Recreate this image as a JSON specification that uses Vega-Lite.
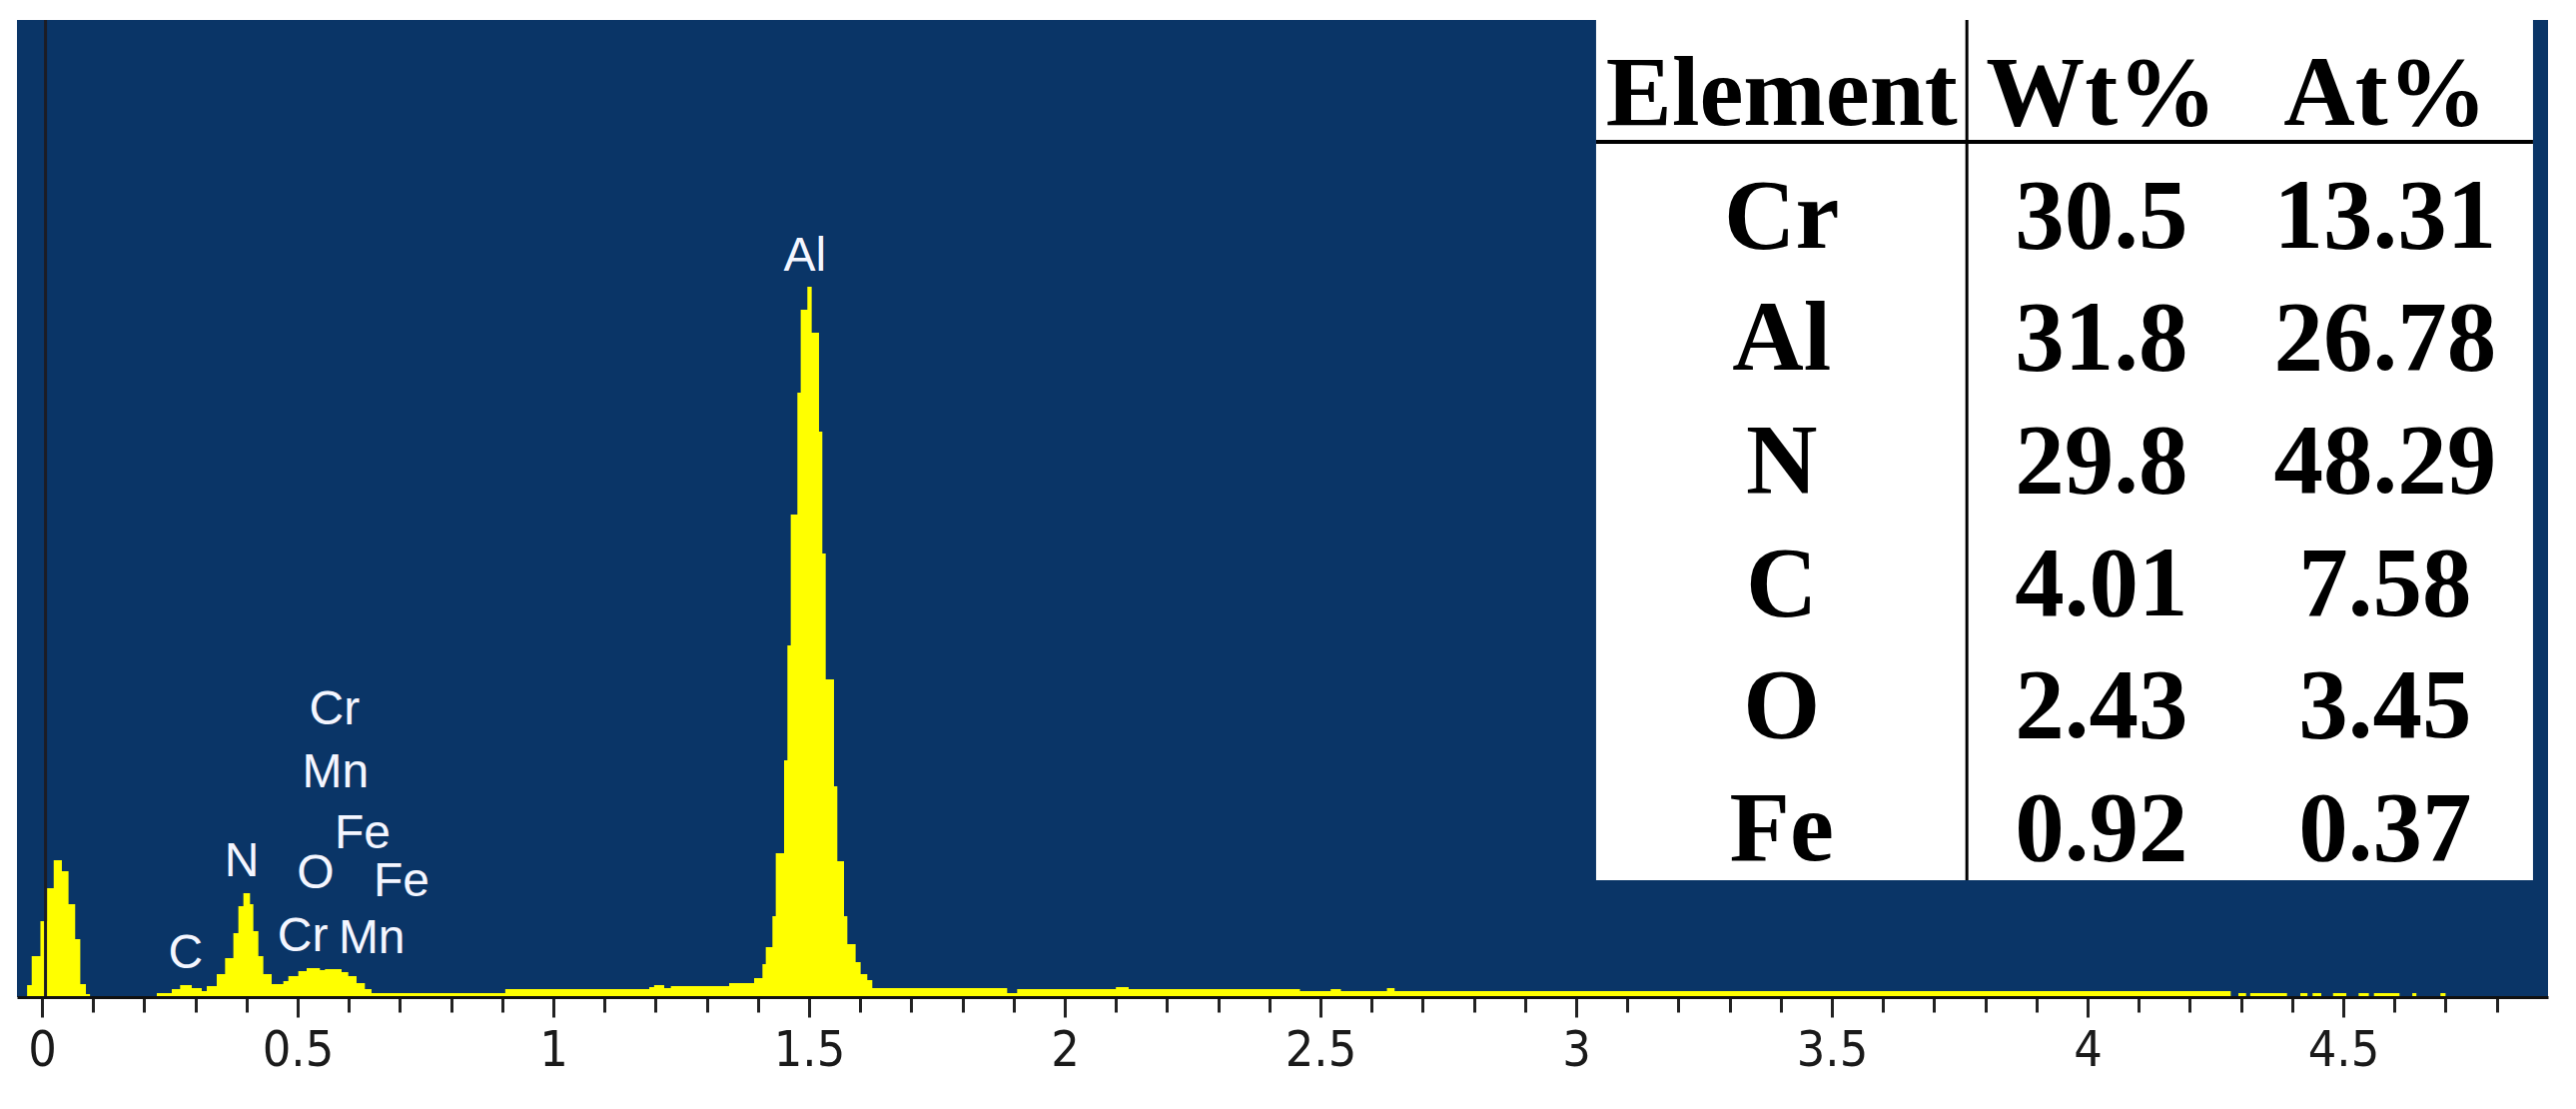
{
  "$schema": "https://vega.github.io/schema/vega-lite/v6.json",
  "width": 2534,
  "height": 978,
  "autosize": "none",
  "padding": {"left": 17, "top": 20, "right": 28, "bottom": 112},
  "background": "white",
  "config": {"view": {"fill": "#0a3567", "stroke": null}},
  "datasets": {
    "spectrum": [
      {"keV": -0.035, "counts": 0}, {"keV": -0.029, "counts": 12}, {"keV": -0.02, "counts": 41},
      {"keV": -0.003, "counts": 76}, {"keV": 0.01, "counts": 109}, {"keV": 0.023, "counts": 137},
      {"keV": 0.039, "counts": 126}, {"keV": 0.052, "counts": 93}, {"keV": 0.065, "counts": 58},
      {"keV": 0.075, "counts": 13}, {"keV": 0.086, "counts": 3}, {"keV": 0.094, "counts": 0},
      {"keV": 0.2246, "counts": 4}, {"keV": 0.2539, "counts": 8}, {"keV": 0.2702, "counts": 12},
      {"keV": 0.293, "counts": 9}, {"keV": 0.3125, "counts": 6}, {"keV": 0.3223, "counts": 11},
      {"keV": 0.3418, "counts": 23}, {"keV": 0.3581, "counts": 39}, {"keV": 0.3743, "counts": 64},
      {"keV": 0.3841, "counts": 91}, {"keV": 0.3939, "counts": 104}, {"keV": 0.4069, "counts": 93},
      {"keV": 0.4134, "counts": 66}, {"keV": 0.4232, "counts": 41}, {"keV": 0.4329, "counts": 23},
      {"keV": 0.4492, "counts": 13}, {"keV": 0.472, "counts": 16}, {"keV": 0.4818, "counts": 21},
      {"keV": 0.5013, "counts": 26}, {"keV": 0.5176, "counts": 29}, {"keV": 0.5436, "counts": 27},
      {"keV": 0.5534, "counts": 28}, {"keV": 0.5859, "counts": 25}, {"keV": 0.599, "counts": 21},
      {"keV": 0.6152, "counts": 14}, {"keV": 0.6315, "counts": 8}, {"keV": 0.6445, "counts": 4},
      {"keV": 0.906, "counts": 8}, {"keV": 1.1875, "counts": 10}, {"keV": 1.197, "counts": 12},
      {"keV": 1.2168, "counts": 9}, {"keV": 1.2298, "counts": 11}, {"keV": 1.3438, "counts": 14},
      {"keV": 1.3926, "counts": 19}, {"keV": 1.4089, "counts": 33}, {"keV": 1.4154, "counts": 50},
      {"keV": 1.4284, "counts": 81}, {"keV": 1.4349, "counts": 144}, {"keV": 1.4512, "counts": 237},
      {"keV": 1.4577, "counts": 352}, {"keV": 1.4642, "counts": 483}, {"keV": 1.4772, "counts": 605},
      {"keV": 1.4837, "counts": 688}, {"keV": 1.4967, "counts": 711}, {"keV": 1.5052, "counts": 665},
      {"keV": 1.5195, "counts": 566}, {"keV": 1.526, "counts": 444}, {"keV": 1.5326, "counts": 318},
      {"keV": 1.5488, "counts": 211}, {"keV": 1.5553, "counts": 136}, {"keV": 1.5684, "counts": 81},
      {"keV": 1.5749, "counts": 53}, {"keV": 1.5911, "counts": 35}, {"keV": 1.6009, "counts": 23},
      {"keV": 1.6139, "counts": 17}, {"keV": 1.6237, "counts": 9}, {"keV": 1.8874, "counts": 4},
      {"keV": 1.9069, "counts": 8}, {"keV": 2.1, "counts": 10}, {"keV": 2.125, "counts": 8},
      {"keV": 2.46, "counts": 6}, {"keV": 2.52, "counts": 8}, {"keV": 2.54, "counts": 6},
      {"keV": 2.63, "counts": 9}, {"keV": 2.645, "counts": 6}, {"keV": 4.28, "counts": 1},
      {"keV": 4.295, "counts": 4}, {"keV": 4.31, "counts": 1}, {"keV": 4.318, "counts": 4},
      {"keV": 4.39, "counts": 1}, {"keV": 4.416, "counts": 4}, {"keV": 4.43, "counts": 1},
      {"keV": 4.44, "counts": 4}, {"keV": 4.457, "counts": 1}, {"keV": 4.48, "counts": 4},
      {"keV": 4.506, "counts": 1}, {"keV": 4.53, "counts": 4}, {"keV": 4.55, "counts": 1},
      {"keV": 4.56, "counts": 4}, {"keV": 4.61, "counts": 1}, {"keV": 4.635, "counts": 4},
      {"keV": 4.643, "counts": 1}, {"keV": 4.69, "counts": 4}, {"keV": 4.7, "counts": 0},
      {"keV": 4.9, "counts": 0}
    ],
    "peaks": [
      {"label": "Al", "keV": 1.492, "counts": 741},
      {"label": "C", "keV": 0.281, "counts": 43},
      {"label": "N", "keV": 0.391, "counts": 135},
      {"label": "O", "keV": 0.535, "counts": 123},
      {"label": "Cr", "keV": 0.51, "counts": 60},
      {"label": "Mn", "keV": 0.645, "counts": 58},
      {"label": "Fe", "keV": 0.627, "counts": 163},
      {"label": "Fe", "keV": 0.703, "counts": 115},
      {"label": "Mn", "keV": 0.574, "counts": 224},
      {"label": "Cr", "keV": 0.572, "counts": 287}
    ],
    "composition": [
      {"Element": "Element", "wt": "Wt%", "at": "At%"},
      {"Element": "Cr", "wt": "30.5", "at": "13.31"},
      {"Element": "Al", "wt": "31.8", "at": "26.78"},
      {"Element": "N", "wt": "29.8", "at": "48.29"},
      {"Element": "C", "wt": "4.01", "at": "7.58"},
      {"Element": "O", "wt": "2.43", "at": "3.45"},
      {"Element": "Fe", "wt": "0.92", "at": "0.37"}
    ]
  },
  "layer": [
    {
      "layer": [
        {
          "data": {"name": "spectrum"},
          "mark": {"type": "area", "interpolate": "step-after", "color": "#ffff00"},
          "encoding": {
            "x": {
              "field": "keV", "type": "quantitative",
              "scale": {"domain": [-0.0488, 4.9004], "nice": false, "zero": false},
              "axis": {
                "title": null,
                "grid": false,
                "zindex": 1,
                "values": [0,0.05,0.1,0.15,0.2,0.25,0.3,0.35,0.4,0.45,0.5,0.55,0.6,0.65,0.7,0.75,0.8,0.85,0.9,0.95,1,1.05,1.1,1.15,1.2,1.25,1.3,1.35,1.4,1.45,1.5,1.55,1.6,1.65,1.7,1.75,1.8,1.85,1.9,1.95,2,2.05,2.1,2.15,2.2,2.25,2.3,2.35,2.4,2.45,2.5,2.55,2.6,2.65,2.7,2.75,2.8,2.85,2.9,2.95,3,3.05,3.1,3.15,3.2,3.25,3.3,3.35,3.4,3.45,3.5,3.55,3.6,3.65,3.7,3.75,3.8,3.85,3.9,3.95,4,4.05,4.1,4.15,4.2,4.25,4.3,4.35,4.4,4.45,4.5,4.55,4.6,4.65,4.7,4.75,4.8,4.85],
                "domainColor": "#111111",
                "domainWidth": 3,
                "tickColor": "#222222",
                "tickWidth": 3,
                "tickSize": {"condition": [
                  {"test": "abs(datum.value*2 - round(datum.value*2)) < 0.001", "value": 20},
                  {"test": "abs(datum.value*10 - round(datum.value*10)) < 0.001", "value": 15}
                ], "value": 11},
                "labelExpr": "abs(datum.value*2 - round(datum.value*2)) < 0.001 ? format(datum.value, '.1~f') : ''",
                "labelFont": "Liberation Sans Narrow, DejaVu Sans Condensed, Liberation Sans",
                "labelFontSize": 50,
                "labelColor": "#1a1a1a",
                "labelPadding": 8,
                "labelOverlap": false,
                "labelBound": false,
                "labelFlush": false
              }
            },
            "y": {"field": "counts", "type": "quantitative", "scale": {"domain": [0, 978], "nice": false}, "axis": null}
          }
        },
        {
          "data": {"values": [{}]},
          "mark": {"type": "rule", "color": "#1c1c24", "strokeWidth": 3},
          "encoding": {"x": {"datum": 0.007}}
        },
        {
          "data": {"name": "peaks"},
          "mark": {"type": "text", "color": "#f4f6ff", "font": "Liberation Sans", "fontSize": 48, "align": "center", "baseline": "middle"},
          "encoding": {
            "x": {"field": "keV", "type": "quantitative"},
            "y": {"field": "counts", "type": "quantitative"},
            "text": {"field": "label"}
          }
        },
        {
          "data": {"values": [{}]},
          "mark": {"type": "rect", "color": "#ffffff"},
          "encoding": {"x": {"datum": 3.039}, "x2": {"datum": 4.871}, "y": {"datum": 117}, "y2": {"datum": 978}}
        },
        {
          "data": {"values": [{}]},
          "mark": {"type": "rule", "color": "#000000", "strokeWidth": 4},
          "encoding": {"x": {"datum": 3.039}, "x2": {"datum": 4.871}, "y": {"datum": 856}}
        },
        {
          "data": {"values": [{}]},
          "mark": {"type": "rule", "color": "#000000", "strokeWidth": 3},
          "encoding": {"x": {"datum": 3.764}, "y": {"datum": 117}, "y2": {"datum": 978}}
        }
      ]
    },
    {
      "data": {"name": "composition"},
      "encoding": {
        "y": {
          "field": "Element", "type": "ordinal",
          "scale": {"type": "point", "domain": ["Element", "Cr", "Al", "N", "C", "O", "Fe"], "padding": 0.9864, "align": 0.31},
          "axis": null
        }
      },
      "layer": [
        {
          "mark": {"type": "text", "font": "Liberation Serif", "fontWeight": "bold", "fontSize": 99, "color": "#000000", "align": "center", "baseline": "middle"},
          "encoding": {"x": {"datum": 3.402}, "text": {"field": "Element"}}
        },
        {
          "mark": {"type": "text", "font": "Liberation Serif", "fontWeight": "bold", "fontSize": 99, "color": "#000000", "align": "center", "baseline": "middle"},
          "encoding": {"x": {"datum": 4.027}, "text": {"field": "wt"}}
        },
        {
          "mark": {"type": "text", "font": "Liberation Serif", "fontWeight": "bold", "fontSize": 99, "color": "#000000", "align": "center", "baseline": "middle"},
          "encoding": {"x": {"datum": 4.582}, "text": {"field": "at"}}
        }
      ]
    }
  ],
  "resolve": {"scale": {"y": "independent"}}
}
